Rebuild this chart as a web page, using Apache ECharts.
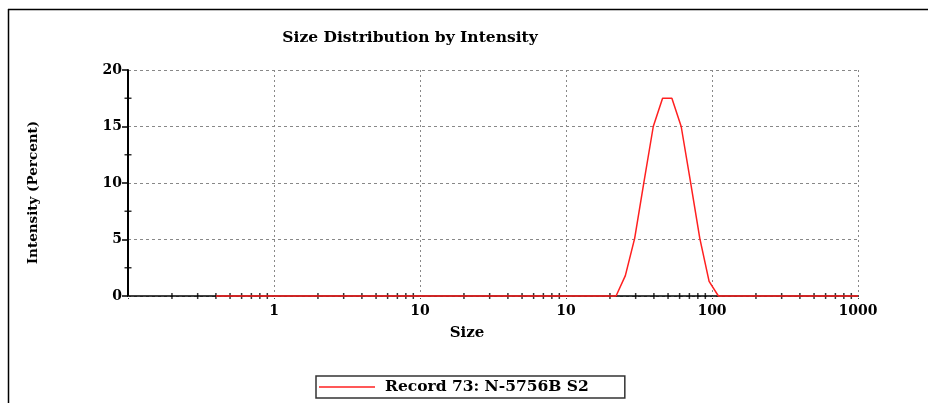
<!DOCTYPE html>
<html><head><meta charset="utf-8">
<script src="https://cdn.jsdelivr.net/npm/echarts@6/dist/echarts.min.js"></script>
<style>html,body{margin:0;padding:0;background:#fff}#c{width:928px;height:403px}</style>
</head><body><div id="c"></div>
<script>
// Data (sizes in d.nm on log axis, intensity in percent)
const sizes = [0.4, 190.1, 220.2, 255, 295.3, 342, 396.1, 458.7, 531.2, 615.1, 712.4, 825, 955.4, 1106, 1281, 10000];
const intensity = [0, 0, 0, 1.8, 5.1, 10.1, 15.0, 17.5, 17.5, 15.0, 10.1, 5.1, 1.3, 0, 0, 0];
const seriesName = 'Record 73: N-5756B S2';
// tick labels as printed in the reference (major decades)
const xTickValues = [0.1, 1, 10, 100, 1000, 10000];
const xTickLabels = ['', '1', '10', '10', '100', '1000'];
const xMinorTicks = [0.2,0.3,0.4,0.5,0.6,0.7,0.8,0.9, 2,3,4,5,6,7,8,9, 20,30,40,50,60,70,80,90,
  200,300,400,500,600,700,800,900, 2000,3000,4000,5000,6000,7000,8000,9000];
const yMinorTicks = [2.5, 7.5, 12.5, 17.5];

const serif = '"DejaVu Serif","Liberation Serif",serif';
const chart = echarts.init(document.getElementById('c'), null, {renderer:'canvas'});
function xLabel(v){
  for (let i=0;i<xTickValues.length;i++){ if (Math.abs(Math.log10(v)-Math.log10(xTickValues[i]))<1e-6) return xTickLabels[i]; }
  return '';
}
chart.setOption({
  animation:false,
  backgroundColor:'#fff',
  title:{text:'Size Distribution by Intensity', left:405, top:25, textAlign:'center',
    textStyle:{fontFamily:serif, fontWeight:'bold', fontSize:15.5, color:'#000'}},
  legend:{data:[{name:seriesName, icon:'rect'}], left:316, top:376, itemWidth:56, itemHeight:1.5, itemGap:10,
    padding:[3,36,3,3], borderColor:'#333', borderWidth:1.5,
    textStyle:{fontFamily:serif, fontWeight:'bold', fontSize:15.5, color:'#000', padding:[0,0,0,5]}},
  grid:{left:128, right:70, top:70, bottom:107, containLabel:false},
  xAxis:{type:'log', logBase:10, min:0.1, max:10000,
    name:'Size', nameLocation:'middle', nameGap:30,
    nameTextStyle:{fontFamily:serif, fontWeight:'bold', fontSize:15, color:'#000', padding:[0,52,0,0]},
    axisLine:{lineStyle:{color:'#000', width:1.5}},
    axisTick:{show:true, length:4, lineStyle:{color:'#444', type:'dotted'}},
    axisLabel:{formatter:xLabel, fontFamily:serif, fontWeight:'bold', fontSize:14, color:'#000', margin:8, showMinLabel:true},
    splitLine:{show:true, lineStyle:{color:'#888', type:[2,3], width:1}},
    minorTick:{show:false}},
  yAxis:{type:'value', min:0, max:20, interval:5,
    name:'Intensity (Percent)', nameLocation:'middle', nameGap:88, nameRotate:90,
    nameTextStyle:{fontFamily:serif, fontWeight:'bold', fontSize:13.5, color:'#000', padding:[0,19,0,0]},
    axisLine:{show:true, lineStyle:{color:'#000', width:2}},
    axisTick:{show:true, length:6, lineStyle:{color:'#000', width:1.5}},
    axisLabel:{fontFamily:serif, fontWeight:'bold', fontSize:14, color:'#000', margin:6},
    splitLine:{show:true, lineStyle:{color:'#888', type:[3,3], width:1}}},
  series:[
    {name:'xminor', type:'scatter', data:xMinorTicks.map(v=>[v,0]), symbol:'rect', symbolSize:[1.5,6],
      itemStyle:{color:'#000'}, silent:true, clip:false, z:1},
    {name:'yminor', type:'scatter', data:yMinorTicks.map(v=>[0.1,v]), symbol:'rect', symbolSize:[7,1.5],
      itemStyle:{color:'#000'}, silent:true, clip:false, z:1},
    {name:seriesName, type:'line', data:sizes.map((s,i)=>[s,intensity[i]]), symbol:'none', smooth:false,
      lineStyle:{color:'#ff2020', width:1.5}, itemStyle:{color:'#ff2020'}, z:5, clip:false}
  ],
  graphic:[
    {type:'line', shape:{x1:8, y1:9.5, x2:928, y2:9.5}, style:{stroke:'#000', lineWidth:1.5}},
    {type:'line', shape:{x1:8.5, y1:9, x2:8.5, y2:403}, style:{stroke:'#000', lineWidth:1.5}}
  ]
});
</script></body></html>
